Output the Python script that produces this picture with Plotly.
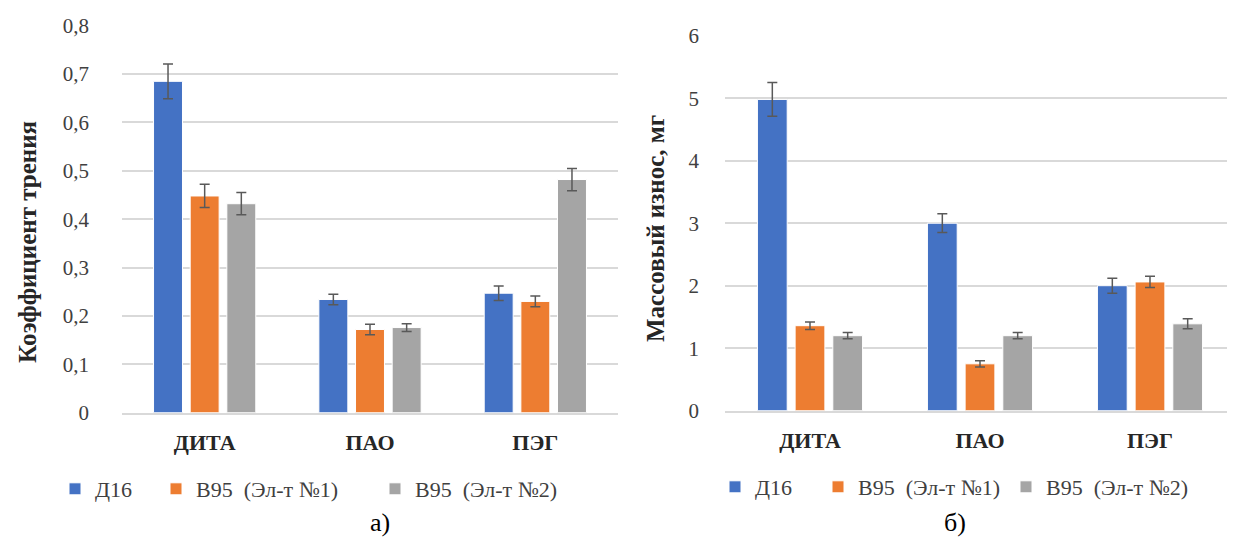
import plotly.graph_objects as go

categories = ["ДИТА", "ПАО", "ПЭГ"]
series_names = ["Д16", "В95  (Эл-т №1)", "В95  (Эл-т №2)"]
colors = ["#4472C4", "#ED7D31", "#A5A5A5"]

# Chart а) — coefficient of friction
friction_d16 = [0.685, 0.234, 0.247]
friction_v95_1 = [0.448, 0.172, 0.230]
friction_v95_2 = [0.432, 0.176, 0.482]
friction_err_d16 = [0.036, 0.011, 0.015]
friction_err_v95_1 = [0.024, 0.011, 0.011]
friction_err_v95_2 = [0.023, 0.008, 0.023]

# Chart б) — mass wear, mg
wear_d16 = [4.98, 3.00, 2.00]
wear_v95_1 = [1.36, 0.75, 2.06]
wear_v95_2 = [1.20, 1.20, 1.39]
wear_err_d16 = [0.27, 0.15, 0.12]
wear_err_v95_1 = [0.06, 0.05, 0.09]
wear_err_v95_2 = [0.05, 0.05, 0.08]

friction_tickvals = [0, 0.1, 0.2, 0.3, 0.4, 0.5, 0.6, 0.7, 0.8]
friction_ticktext = ["0", "0,1", "0,2", "0,3", "0,4", "0,5", "0,6", "0,7", "0,8"]
wear_tickvals = [0, 1, 2, 3, 4, 5, 6]
wear_ticktext = ["0", "1", "2", "3", "4", "5", "6"]

# page body has an 8px margin; the figure fills the rest of the window
OFF = 8
W, H = 1235 - OFF, 542 - OFF
SERIF = "Times New Roman, Liberation Serif, DejaVu Serif, serif"


def fx(px):
    return (px - OFF) / W


def fy(py):
    return 1 - (py - OFF) / H


fig = go.Figure()

friction = [friction_d16, friction_v95_1, friction_v95_2]
friction_err = [friction_err_d16, friction_err_v95_1, friction_err_v95_2]
wear = [wear_d16, wear_v95_1, wear_v95_2]
wear_err = [wear_err_d16, wear_err_v95_1, wear_err_v95_2]

left_legends = ["legend", "legend2", "legend3"]
right_legends = ["legend4", "legend5", "legend6"]

for i in range(3):
    fig.add_trace(go.Bar(
        x=categories, y=friction[i], name=series_names[i],
        marker=dict(color=colors[i], line=dict(color="white", width=1)),
        error_y=dict(type="data", array=friction_err[i], color="#595959",
                     thickness=1.5, width=5),
        xaxis="x", yaxis="y", legend=left_legends[i],
    ))
for i in range(3):
    fig.add_trace(go.Bar(
        x=categories, y=wear[i], name=series_names[i],
        marker=dict(color=colors[i], line=dict(color="white", width=1)),
        error_y=dict(type="data", array=wear_err[i], color="#595959",
                     thickness=1.5, width=5),
        xaxis="x2", yaxis="y2", legend=right_legends[i],
    ))

grid = "#D9D9D9"
xcommon = dict(showgrid=False, showline=True, linecolor=grid, linewidth=1.5,
               ticks="", ticklabelstandoff=9,
               tickfont=dict(family=SERIF, size=22, color="#262626", weight="bold"))
ycommon = dict(showgrid=True, gridcolor=grid, gridwidth=1.5, zeroline=False,
               showline=False, ticks="",
               tickfont=dict(family=SERIF, size=21, color="#404040"))

legend_style = dict(orientation="h", xanchor="left", yanchor="middle",
                    font=dict(family=SERIF, size=22, color="#404040"),
                    bgcolor="rgba(0,0,0,0)", borderwidth=0)

left_icon_x = [75, 176, 395]
right_icon_x = [735, 838, 1026]
legend_layout = {}
for name, cx in zip(left_legends, left_icon_x):
    legend_layout[name] = dict(x=fx(cx - 20), y=fy(489), **legend_style)
for name, cx in zip(right_legends, right_icon_x):
    legend_layout[name] = dict(x=fx(cx - 20), y=fy(487), **legend_style)

fig.update_layout(
    width=W, height=H,
    margin=dict(l=0, r=0, t=0, b=0, autoexpand=False),
    paper_bgcolor="white", plot_bgcolor="white",
    font=dict(family=SERIF),
    barmode="group", bargap=0.335, bargroupgap=0.21,
    xaxis=dict(domain=[fx(122), fx(618)], anchor="y", **xcommon),
    yaxis=dict(domain=[fy(412.7), fy(25.7)], anchor="x",
               range=[0, 0.8], tickvals=friction_tickvals,
               ticktext=friction_ticktext, ticklabelstandoff=32, **ycommon),
    xaxis2=dict(domain=[fx(725), 1.0], anchor="y2", **xcommon),
    yaxis2=dict(domain=[fy(410.7), fy(35.7)], anchor="x2",
                range=[0, 6], tickvals=wear_tickvals,
                ticktext=wear_ticktext, ticklabelstandoff=25, **ycommon),
    showlegend=True,
    **legend_layout,
)

fig.add_annotation(x=fx(28), y=fy(242), xref="paper", yref="paper",
                   xanchor="center", yanchor="middle",
                   text="Коэффициент трения", textangle=-90, showarrow=False,
                   font=dict(family=SERIF, size=25, color="#262626", weight="bold"))
fig.add_annotation(x=fx(655), y=fy(229), xref="paper", yref="paper",
                   xanchor="center", yanchor="middle",
                   text="Массовый износ, мг", textangle=-90, showarrow=False,
                   font=dict(family=SERIF, size=25, color="#262626", weight="bold"))
fig.add_annotation(x=fx(380), y=fy(522), xref="paper", yref="paper",
                   xanchor="center", yanchor="middle",
                   text="а)", showarrow=False,
                   font=dict(family=SERIF, size=26, color="#000000"))
fig.add_annotation(x=fx(955), y=fy(522), xref="paper", yref="paper",
                   xanchor="center", yanchor="middle",
                   text="б)", showarrow=False,
                   font=dict(family=SERIF, size=26, color="#000000"))

fig.write_html("out.html")
